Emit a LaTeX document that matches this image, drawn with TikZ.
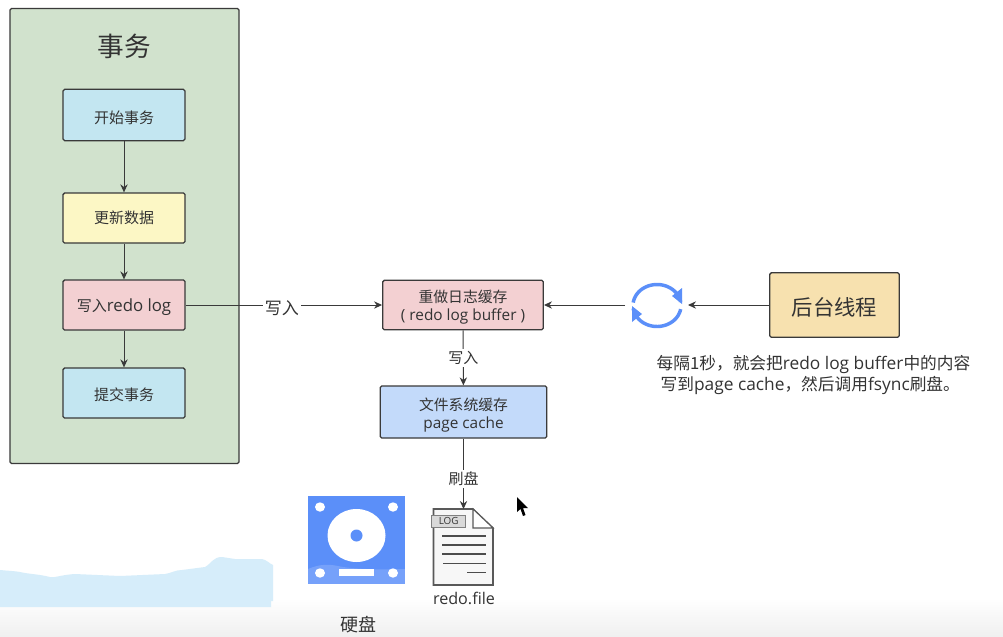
\documentclass[tikz,border=0pt]{standalone}
\usepackage{fontspec}
\setmainfont[Scale=1.12]{Open Sans}
\newfontfamily\cjk{Noto Sans CJK SC}
\newfontfamily\cjkb[Scale=1.08]{Noto Sans CJK SC}
\newcommand{\C}[1]{{\cjk #1}}
\newcommand{\D}[1]{{\cjkb #1}}
\newcommand{\dn}[1]{\rule{0pt}{#1}}
\usetikzlibrary{arrows.meta,calc}
\definecolor{txt}{HTML}{333333}
\definecolor{edge}{HTML}{3A3A3A}
\definecolor{iconblue}{HTML}{5B8FF9}
\definecolor{wave}{HTML}{D6EDFA}
\tikzset{
  flowbox/.style={draw=edge,line width=0.95pt,rounded corners=1.2pt,align=center,text=txt,inner sep=0pt,font=\fontsize{11.25pt}{13.5pt}\selectfont},
  midbox/.style={flowbox,font=\fontsize{10.3pt}{13.5pt}\selectfont},
  conn/.style={draw=edge,line width=0.75pt,-{Stealth[length=6pt,width=5.5pt]}},
  lbl/.style={text=txt,fill=white,inner sep=1.5pt,font=\fontsize{11.25pt}{13pt}\selectfont},
  captext/.style={text=txt,inner sep=0pt,align=center},
  hole/.style={fill=white,draw=none}
}
\begin{document}
\begin{tikzpicture}[x=0.75pt,y=-0.75pt]
\useasboundingbox (0,0) rectangle (1003,636);
\fill[white] (0,0) rectangle (1003,636);
\shade[top color=white,bottom color=black!6] (0,598) rectangle (1003,636);
% smear
\fill[wave] (0,570) .. controls (10,571) and (15,571) .. (20,572) .. controls (28,574) and (38,574) .. (50,577)
 .. controls (55,578) and (60,575) .. (75,574) -- (120,576) -- (165,574) .. controls (172,573) and (175,570) .. (182,570)
 -- (205,567) .. controls (212,563) and (213,557) .. (222,557) -- (235,559) -- (262,559) .. controls (267,560) and (270,564) .. (273,565)
 -- (273,601) -- (271,601) -- (271,607) -- (0,607) -- cycle;
% panel
\node[flowbox,fill={rgb,255:red,209;green,226;blue,205},minimum width=171.75pt,minimum height=341.25pt] (panel) at (124.5,236) {};
\node[captext,font=\fontsize{20pt}{22pt}\selectfont] (title) at (124,46) {\C{事务}};
% left boxes
\node[flowbox,fill={rgb,255:red,195;green,230;blue,241},minimum width=91.5pt,minimum height=38.5pt] (start) at (124,115) {\dn{13pt}\C{开始事务}};
\node[flowbox,fill={rgb,255:red,252;green,247;blue,197},minimum width=91.5pt,minimum height=37.5pt] (update) at (124,218) {\C{更新数据}};
\node[flowbox,fill={rgb,255:red,243;green,208;blue,210},minimum width=91.5pt,minimum height=37.5pt] (write) at (124,305) {\dn{13pt}\C{写入}redo log};
\node[flowbox,fill={rgb,255:red,195;green,230;blue,241},minimum width=91.5pt,minimum height=37.5pt] (commit) at (124,393) {\dn{12pt}\C{提交事务}};
% middle
\node[midbox,fill={rgb,255:red,243;green,208;blue,210},minimum width=120.5pt,minimum height=37pt] (buffer) at (463,305) {\dn{13pt}\D{重做日志缓存}\\( redo log buffer )};
\node[midbox,fill={rgb,255:red,195;green,218;blue,250},minimum width=125pt,minimum height=39pt] (cache) at (463.5,412) {\dn{13.5pt}\D{文件系统缓存}\\page cache};
% worker
\node[flowbox,fill={rgb,255:red,247;green,225;blue,175},minimum width=97pt,minimum height=48.5pt,font=\fontsize{16pt}{19pt}\selectfont] (worker) at (834.5,305) {\dn{17pt}\C{后台线程}};
% sync icon
\coordinate (syncR) at (688,305);
\coordinate (syncL) at (625,305);
\draw[iconblue,line width=2.6pt] plot[smooth,samples=30,domain=188:350] ({657+24*cos(\x)},{305.5+21*sin(\x)});
\draw[iconblue,line width=2.6pt] plot[smooth,samples=30,domain=10:172] ({657+24*cos(\x)},{305.5+21*sin(\x)});
\fill[iconblue] (682,288) -- (682,304) -- (672,296) -- cycle;
\fill[iconblue] (632,322) -- (632,306) -- (642,314) -- cycle;
% text
\node[captext,align=left,font=\fontsize{11.6pt}{15.75pt}\selectfont] (note) at (813.5,375) {\D{每隔1秒，就会把}redo log buffer\D{中的内容}\\\hspace*{3pt}\D{写到}page cache\D{，然后调用}fsync\D{刷盘。}};
% disk icon
\fill[iconblue] (308,496) rectangle (405,584);
\fill[white,opacity=.17] (308,569) .. controls (320,564) and (328,564) .. (338,566) .. controls (350,569) and (380,570) .. (405,569) -- (405,584) -- (308,584) -- cycle;
\fill[hole] (356.5,535.5) ellipse[x radius=29,y radius=26.5];
\fill[iconblue] (356.5,535.5) circle[radius=6];
\foreach \p in {(320,507),(393,507),(320,573),(393,573)} \fill[hole] \p ellipse[x radius=5,y radius=4.7];
\fill[hole] (339,569) rectangle (374,576);
\node[captext,font=\fontsize{13.5pt}{16pt}\selectfont] (disklabel) at (358,625) {\C{硬盘}};
% file icon
\coordinate (filetop) at (463.5,509);
\draw[gray!70!black,line width=1.15pt,fill=black!3] (433.5,509) -- (473,509) -- (493,528) -- (493,585) -- (433.5,585) -- cycle;
\draw[gray!70!black,line width=.8pt,fill=white] (473,509) -- (473,528) -- (493,528) -- cycle;
\node[draw=gray,fill=black!15,minimum width=25.5pt,minimum height=8.8pt,inner sep=0pt,text=txt,font=\fontsize{6.6pt}{8pt}\selectfont] (logtag) at (448.7,521) {LOG};
\foreach \yy/\a/\b in {536/442/485.5,545/442/485.5,554/442/485.5,563.7/443/485.5,572.7/467/485.5} \draw[black!70,line width=.8pt] (\a,\yy) -- (\b,\yy);
\node[captext,font=\fontsize{10.8pt}{13pt}\selectfont] (filelabel) at (464,598) {redo.file};
% connectors
\draw[conn] (start) -- (update);
\draw[conn] (update) -- (write);
\draw[conn] (write) -- (commit);
\draw[conn] (write) -- node[lbl,pos=.49,yshift=-2pt,font=\fontsize{12.75pt}{14pt}\selectfont] (l1) {\C{写入}} (buffer);
\draw[conn] (syncL) -- (buffer);
\draw[conn] (worker) -- (syncR);
\draw[conn] (buffer) -- node[lbl,pos=.5] (l2) {\C{写入}} (cache);
\draw[conn] (cache) -- node[lbl,pos=.57] (l3) {\C{刷盘}} (filetop);
% cursor
\fill[black] (517,497) -- (517,512) -- (520.5,509) -- (523,516) -- (525.5,515) -- (523,508) -- (528,508) -- cycle;
\end{tikzpicture}
\end{document}
